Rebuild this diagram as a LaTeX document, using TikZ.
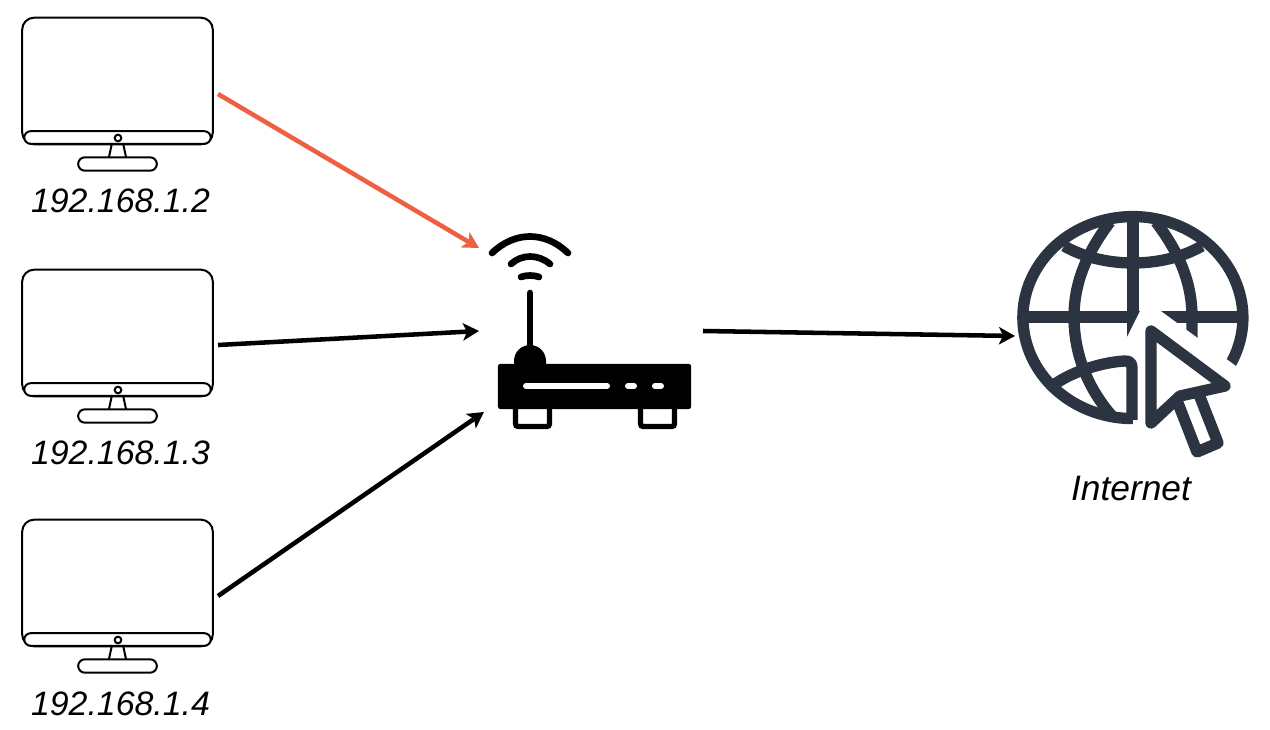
\documentclass[tikz,border=0pt]{standalone}
\usepackage{fontspec}
\setmainfont{Liberation Sans}
\usepackage{xcolor}
\usetikzlibrary{arrows.meta, positioning}
\definecolor{linkred}{HTML}{EE6041}
\definecolor{globeink}{HTML}{2B3440}

\begin{document}
\begin{tikzpicture}[
  x=0.75pt, y=-0.75pt,
  screen/.style={draw, line width=1.5pt, rounded corners=9pt, minimum width=143pt, minimum height=95pt},
  chin/.style={draw, fill=white, line width=1.5pt, rounded corners=5pt, minimum width=140pt, minimum height=9.5pt},
  foot/.style={draw, fill=white, line width=1.5pt, rounded corners=5pt, minimum width=59pt, minimum height=10pt},
  lbl/.style={font=\fontsize{25.4}{30}\selectfont\itshape, inner sep=0pt},
  link/.style={line width=3.4pt, -{Stealth[length=12pt, width=13pt, inset=3pt]}},
  wave/.style={line width=5pt, line cap=round},
  slot/.style={white, line width=4.5pt, line cap=round},
  stub/.style={line width=4pt, rounded corners=2pt},
  net/.style={globeink, line width=8.5pt},
  arrowline/.style={globeink, line width=8.5pt, line join=round},
]
\useasboundingbox (0,0) rectangle (1270,730);

% --- Monitors ---
\foreach \i/\y in {1/0, 2/252, 3/502}{
  \begin{scope}[shift={(0,\y)}]
    \node[screen] (mon\i) at (117.5,81) {};
    \node[chin] (chin\i) at (117.5,137.5) {};
    \node[draw, fill=white, circle, line width=1.5pt, minimum size=5pt, inner sep=0pt] (cam\i) at (118,138) {};
    \draw[line width=1.5pt] (112,143) -- (109,157) (123,143) -- (126,157);
    \node[foot] (foot\i) at (117.5,164) {};
    \coordinate (src\i) at (218,94);
  \end{scope}
}
\node[lbl] (ip1) at (120.5,201) {192.168.1.2};
\node[lbl] (ip2) at (120.5,453) {192.168.1.3};
\node[lbl] (ip3) at (120.5,704) {192.168.1.4};

% --- Router ---
\draw[stub] (515.5,405) -- (515.5,426.5) -- (549.5,426.5) -- (549.5,405);
\draw[stub] (640.5,405) -- (640.5,426.5) -- (674.5,426.5) -- (674.5,405);
\node[fill=black, rounded corners=2pt, minimum width=145pt, minimum height=34pt, inner sep=0pt] (rtr) at (594.5,386.5) {};
\fill (514,366) -- (514,361) arc[start angle=180, end angle=360, radius=16] -- (546,366) -- cycle;
\draw[line width=5pt, line cap=round] (530,293) -- (530,350);
\draw[wave] (492,253) .. controls (515,231) and (545,231) .. (568,253);
\draw[wave] (511,264) .. controls (522,254) and (538,254) .. (550,264);
\draw[wave] (521,277) .. controls (526,275) and (534,275) .. (539,277);
\draw[slot] (526,386) -- (607,386);
\draw[slot] (628,386) -- (634,386);
\draw[slot] (655,386) -- (661,386);

% --- Globe ---
\draw[net] (1230,365) arc[start angle=28, end angle=-270, x radius=110, y radius=101];
\draw[net] (1023,317) -- (1243,317);
\draw[net] (1133,217) -- (1133,345);
\draw[net] (1110,222) .. controls (1085,255) and (1074,285) .. (1074,317) .. controls (1074,350) and (1085,385) .. (1112,416);
\draw[net] (1156,222) .. controls (1181,255) and (1192,285) .. (1192,317) -- (1192,345);
\draw[net] (1064,246) .. controls (1085,258) and (1110,263) .. (1133,263) .. controls (1156,263) and (1181,258) .. (1202,246);
\draw[net, line join=round] (1055,384) .. controls (1075,370) and (1105,362) .. (1125,361) .. controls (1130,361) and (1132,363) .. (1132,368) -- (1132,420);
\fill[white] (1141,309) -- (1158,309) -- (1240,369) -- (1215,395) -- (1150,440) -- (1139,430) -- (1139,352) -- (1127,352) -- (1127,337) -- cycle;
\draw[arrowline, fill=white] (1176,398) -- (1197,452) -- (1218,443) -- (1198,392);
\draw[arrowline, fill=white] (1151,331) -- (1151,423) -- (1180,396) -- (1225,386) -- cycle;
\node[lbl, font=\fontsize{26.5}{30}\selectfont\itshape] (inet) at (1131,489) {Internet};

% --- Links ---
\coordinate (in1) at (479,248);
\coordinate (in2) at (479,331);
\coordinate (in3) at (484,412);
\coordinate (rtrOut) at (703,331);
\coordinate (inetIn) at (1015,336);
\draw[link, linkred] (src1) -- (in1);
\draw[link] (src2) ++(0,-1) -- (in2);
\draw[link] (src3) -- (in3);
\draw[link] (rtrOut) -- (inetIn);
\end{tikzpicture}
\end{document}
